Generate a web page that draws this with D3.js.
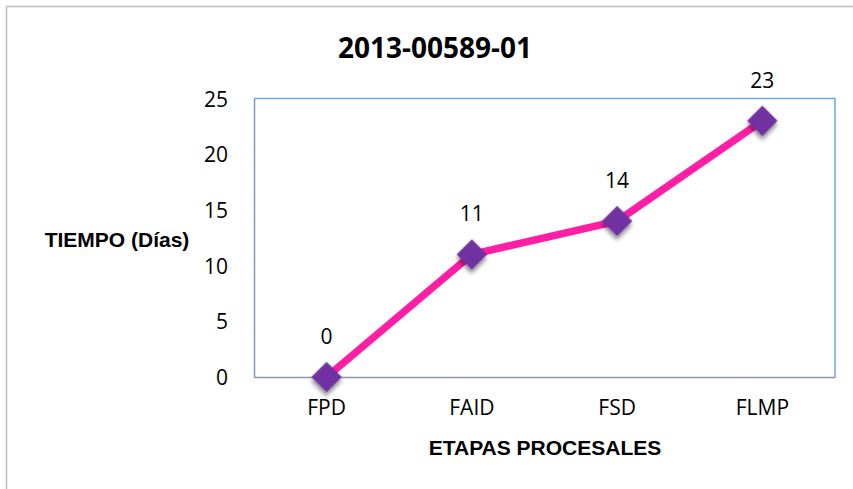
<!DOCTYPE html>
<html>
<head>
<meta charset="utf-8">
<script src="https://cdn.jsdelivr.net/npm/d3@7"></script>
<style>
  html, body { margin: 0; padding: 0; background: #fff; }
  svg { display: block; }
</style>
</head>
<body>
<svg id="chart"></svg>
<script>
// Chart data
const title = '2013-00589-01';
const categories = ['FPD', 'FAID', 'FSD', 'FLMP'];
const values = [0, 11, 14, 23];
const yTicks = [0, 5, 10, 15, 20, 25];
const yTitle = 'TIEMPO (Días)';
const xTitle = 'ETAPAS PROCESALES';

const W = 853, H = 489;
const plot = { left: 254, right: 835, top: 98.5, bottom: 377 };

const svg = d3.select('#chart')
  .attr('width', W)
  .attr('height', H);

// drop shadow for markers
const defs = svg.append('defs');
defs.append('filter')
  .attr('id', 'shadow')
  .attr('x', '-50%').attr('y', '-50%')
  .attr('width', '200%').attr('height', '200%')
  .append('feDropShadow')
  .attr('dx', 2.5)
  .attr('dy', 3)
  .attr('stdDeviation', 2)
  .attr('flood-color', '#000')
  .attr('flood-opacity', 0.45);

// outer chart border
svg.append('rect')
  .attr('x', 6.5)
  .attr('y', 6.5)
  .attr('width', W + 20)
  .attr('height', H + 20)
  .attr('fill', 'none')
  .attr('stroke', '#bfbfbf')
  .attr('stroke-width', 1.5);

// Scales
const x = d3.scaleBand()
  .domain(categories)
  .range([plot.left, plot.right]);

const y = d3.scaleLinear()
  .domain([0, 25])
  .range([plot.bottom, plot.top]);

const cx = d => x(d) + x.bandwidth() / 2;

// plot area border (top / right)
svg.append('path')
  .attr('d', `M${plot.left},${plot.top}H${plot.right}V${plot.bottom}`)
  .attr('fill', 'none')
  .attr('stroke', '#6fa6db')
  .attr('stroke-width', 1.5);

// Axes
const yAxis = d3.axisLeft(y)
  .tickValues(yTicks)
  .tickSize(0)
  .tickPadding(26);

const xAxis = d3.axisBottom(x)
  .tickSize(0)
  .tickPadding(26);

const gy = svg.append('g')
  .attr('transform', `translate(${plot.left},0)`)
  .call(yAxis);

const gx = svg.append('g')
  .attr('transform', `translate(0,${plot.bottom})`)
  .call(xAxis);

[gx, gy].forEach(g => {
  g.select('.domain')
    .attr('stroke', '#8497b0')
    .attr('stroke-width', 1.5);
  g.selectAll('text')
    .attr('fill', '#000')
    .style('font-family', '"Open Sans", sans-serif')
    .style('font-size', '21px');
});
gy.selectAll('text').attr('dy', '0.36em');
gx.selectAll('text').attr('dy', '0.55em');

// Line
const line = d3.line()
  .x((d, i) => cx(categories[i]))
  .y(d => y(d));

svg.append('path')
  .datum(values)
  .attr('fill', 'none')
  .attr('stroke', '#ff1fa6')
  .attr('stroke-width', 7.5)
  .attr('stroke-linejoin', 'round')
  .attr('d', line);

// Markers
const diamond = d3.symbol().type(d3.symbolSquare).size(460);

svg.selectAll('.marker')
  .data(values)
  .enter().append('path')
  .attr('class', 'marker')
  .attr('d', diamond)
  .attr('transform', (d, i) => `translate(${cx(categories[i])},${y(d)}) rotate(45)`)
  .attr('fill', '#7030a0')
  .attr('filter', 'url(#shadow)');

// Data labels
svg.selectAll('.label')
  .data(values)
  .enter().append('text')
  .attr('class', 'label')
  .attr('x', (d, i) => cx(categories[i]))
  .attr('y', d => y(d) - 33)
  .attr('text-anchor', 'middle')
  .style('font-family', '"Open Sans", sans-serif')
  .style('font-size', '21px')
  .attr('fill', '#000')
  .text(d => d);

// Title
svg.append('text')
  .attr('x', 435)
  .attr('y', 58)
  .attr('text-anchor', 'middle')
  .style('font-family', '"Open Sans", sans-serif')
  .style('font-weight', '700')
  .style('font-size', '28px')
  .text(title);

// Axis titles
svg.append('text')
  .attr('x', 117)
  .attr('y', 247)
  .attr('text-anchor', 'middle')
  .style('font-family', '"Liberation Sans", Arial, sans-serif')
  .style('font-weight', '700')
  .style('font-size', '21px')
  .text(yTitle);

svg.append('text')
  .attr('x', 545)
  .attr('y', 455)
  .attr('text-anchor', 'middle')
  .style('font-family', '"Liberation Sans", Arial, sans-serif')
  .style('font-weight', '700')
  .style('font-size', '21px')
  .text(xTitle);
</script>
</body>
</html>
